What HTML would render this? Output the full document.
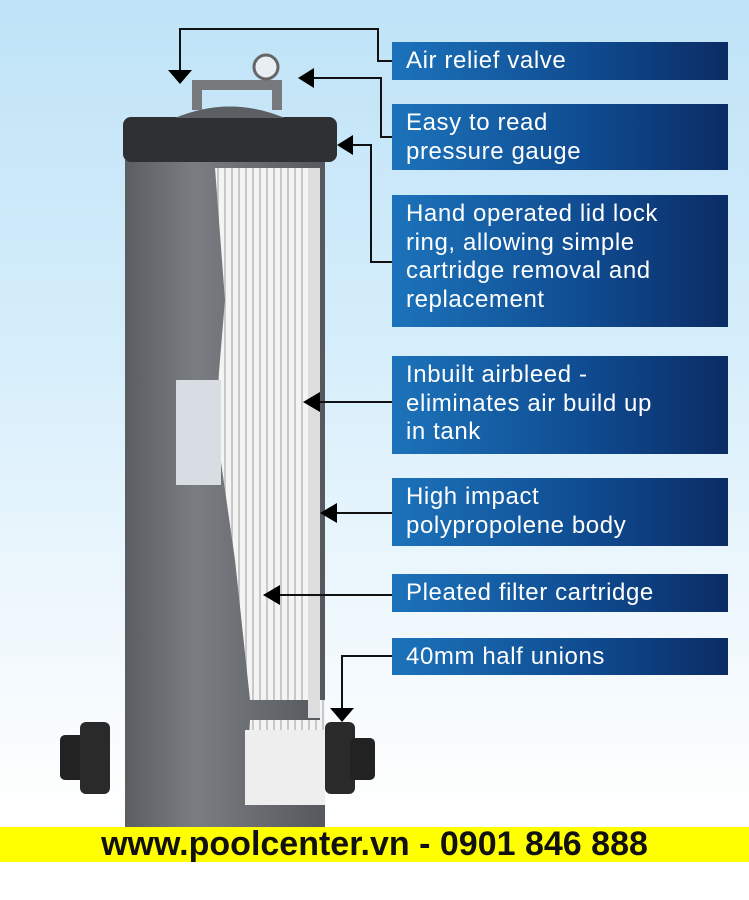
<!DOCTYPE html>
<html><head><style>
body{margin:0;width:749px;height:900px;overflow:hidden;position:relative;font-family:"Liberation Sans",sans-serif;background:linear-gradient(#bfe3f7 0px,#d6eefb 350px,#f2f9fd 650px,#fff 820px);}
.b{position:absolute;left:392px;width:336px;background:linear-gradient(90deg,#1c73bb,#0f4a8f 60%,#0b2c64);color:#fff;font-size:24px;letter-spacing:0.6px;line-height:28.5px;box-sizing:border-box;padding:5px 14px;white-space:nowrap;}
.y{position:absolute;left:0;top:827px;width:749px;height:35px;background:#ffff00;text-align:center;font-weight:bold;font-size:34px;line-height:35px;color:#111;}
</style></head><body>
<svg width="749" height="900" style="position:absolute;left:0;top:0">
<defs>
<linearGradient id="g" x1="0" x2="1"><stop offset="0" stop-color="#5a5d62"/><stop offset=".35" stop-color="#7a7d82"/><stop offset="1" stop-color="#55585c"/></linearGradient>
<pattern id="p" width="7" height="10" patternUnits="userSpaceOnUse"><rect width="7" height="10" fill="#f4f4f4"/><rect width="2" height="10" fill="#c8c8c8"/></pattern>
</defs>
<rect x="125" y="160" width="200" height="668" fill="url(#g)"/>
<path d="M215 168 L320 168 L320 720 L250 720 L245 805 L325 805 L325 700 L250 700 L235 560 L215 420 L225 300 Z" fill="url(#p)"/>
<rect x="308" y="168" width="12" height="550" fill="#ddd"/>
<rect x="245" y="730" width="80" height="75" fill="#eee"/>
<rect x="176" y="380" width="45" height="105" fill="#d8dde3"/>
<rect x="123" y="117" width="214" height="45" rx="8" fill="#2e3033"/>
<path d="M175 118 Q230 95 285 118 Z" fill="#5b5e62"/>
<rect x="192" y="80" width="90" height="10" rx="4" fill="#77797c"/>
<rect x="192" y="80" width="10" height="30" fill="#77797c"/><rect x="272" y="80" width="10" height="30" fill="#77797c"/>
<circle cx="266" cy="67" r="12" fill="#e8eef2" stroke="#666" stroke-width="3"/>
<rect x="60" y="735" width="25" height="45" rx="5" fill="#222"/>
<rect x="80" y="722" width="30" height="72" rx="6" fill="#2a2a2a"/>
<rect x="325" y="722" width="30" height="72" rx="6" fill="#2a2a2a"/>
<rect x="350" y="738" width="25" height="42" rx="5" fill="#222"/>
<g stroke="#111" stroke-width="2" fill="none">
<polyline points="392,61 378,61 378,29 180,29 180,70"/>
<polyline points="392,137 381,137 381,78 310,78"/>
<polyline points="392,262 371,262 371,145 348,145"/>
<line x1="392" y1="402" x2="315" y2="402"/>
<line x1="392" y1="513" x2="332" y2="513"/>
<line x1="392" y1="595" x2="275" y2="595"/>
<polyline points="392,656 342,656 342,712"/>
</g>
<g fill="#000">
<polygon points="168,70 192,70 180,84"/>
<polygon points="298,78 314,68 314,88"/>
<polygon points="337,145 353,135 353,155"/>
<polygon points="303,402 320,392 320,412"/>
<polygon points="320,513 337,503 337,523"/>
<polygon points="263,595 280,585 280,605"/>
<polygon points="330,708 354,708 342,722"/>
</g>
</svg>
<div class="b" style="top:42px;height:38px">Air relief valve</div>
<div class="b" style="top:104px;height:66px">Easy to read<br>pressure gauge</div>
<div class="b" style="top:195px;height:132px">Hand operated lid lock<br>ring, allowing simple<br>cartridge removal and<br>replacement</div>
<div class="b" style="top:356px;height:98px">Inbuilt airbleed -<br>eliminates air build up<br>in tank</div>
<div class="b" style="top:478px;height:68px">High impact<br>polypropolene body</div>
<div class="b" style="top:574px;height:38px">Pleated filter cartridge</div>
<div class="b" style="top:638px;height:37px">40mm half unions</div>
<div class="y">www.poolcenter.vn - 0901 846 888</div>
</body></html>
